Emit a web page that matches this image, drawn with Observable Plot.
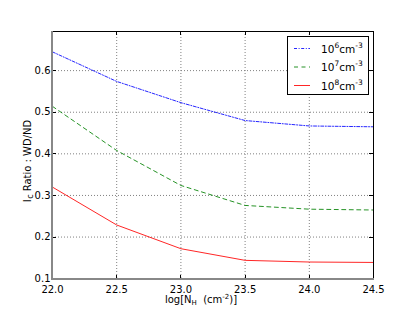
<!DOCTYPE html>
<html><head><meta charset="utf-8">
<script src="https://cdn.jsdelivr.net/npm/d3@7"></script>
<script src="https://cdn.jsdelivr.net/npm/@observablehq/plot@0.6"></script>
<style>
html,body{margin:0;padding:0;background:#fff;}
svg{font-family:"DejaVu Sans",sans-serif;}
</style></head>
<body><div id="chart"></div>
<script>
const logNH = [22.0, 22.5, 23.0, 23.5, 24.0, 24.5];
const ratio1e6 = [0.645, 0.574, 0.523, 0.480, 0.467, 0.465];
const ratio1e7 = [0.514, 0.408, 0.324, 0.276, 0.267, 0.265];
const ratio1e8 = [0.320, 0.229, 0.172, 0.144, 0.140, 0.139];
const xTicks = [22.0, 22.5, 23.0, 23.5, 24.0, 24.5];
const yTicks = [0.1, 0.2, 0.3, 0.4, 0.5, 0.6];
const seriesNames = ["6", "7", "8"];
const seriesColors = ["#0000ff", "#008000", "#ff0000"];
const seriesDash = ["3,1.6,1,1.6", "4,3.5", null];

const allSeries = [ratio1e6, ratio1e7, ratio1e8];
const rows = [];
allSeries.forEach((vals, i) => vals.forEach((v, j) => rows.push({x: logNH[j], y: v, s: seriesNames[i]})));

const W = 415, H = 312;
const plot = Plot.plot({
  width: W, height: H,
  marginLeft: 52, marginRight: 42, marginTop: 31, marginBottom: 33,
  x: {domain: [22, 24.5], ticks: xTicks, tickFormat: d => d.toFixed(1)},
  y: {domain: [0.098, 0.694], ticks: yTicks, tickFormat: d => d.toFixed(1)},
  style: {fontFamily: "DejaVu Sans", fontSize: "10px", color: "#000", background: "#fff"},
  marks: [
    Plot.ruleX(xTicks, {stroke: "#808080", strokeOpacity: 1, strokeDasharray: "1,2", strokeWidth: 1}),
    Plot.ruleY(yTicks, {stroke: "#808080", strokeOpacity: 1, strokeDasharray: "1,2", strokeWidth: 1}),
    Plot.axisX(xTicks, {tickSize: 0, tickPadding: 6, fontSize: 10, label: null, tickFormat: d => d.toFixed(1)}),
    Plot.axisY(yTicks, {tickSize: 0, tickPadding: 2, fontSize: 10, label: null, tickFormat: d => d.toFixed(1)}),
    ...seriesNames.map((s, i) => Plot.line(rows.filter(r => r.s === s), {
      x: "x", y: "y", stroke: seriesColors[i], strokeWidth: 1, strokeOpacity: 0.85,
      strokeDasharray: seriesDash[i] || undefined
    }))
  ]
});
document.getElementById("chart").appendChild(plot);

const svg = d3.select(plot);
const xs = plot.scale("x"), ys = plot.scale("y");
const x0 = xs.range[0], x1 = xs.range[1];
const yb = ys.range[0], yt = ys.range[1];

// inward ticks
const tk = svg.append("g").attr("stroke", "#000").attr("stroke-width", 1);
xTicks.forEach(t => {
  const px = Math.round(xs.apply(t)) + 0.5;
  tk.append("line").attr("x1", px).attr("x2", px).attr("y1", yb).attr("y2", yb - 4);
  tk.append("line").attr("x1", px).attr("x2", px).attr("y1", yt).attr("y2", yt + 4);
});
yTicks.forEach(t => {
  const py = Math.round(ys.apply(t)) + 0.5;
  tk.append("line").attr("x1", x0).attr("x2", x0 + 4).attr("y1", py).attr("y2", py);
  tk.append("line").attr("x1", x1).attr("x2", x1 - 4).attr("y1", py).attr("y2", py);
});
// frame
svg.append("line").attr("x1", x0).attr("x2", x1 + 0.5).attr("y1", yt + 0.5).attr("y2", yt + 0.5).attr("stroke", "#000");
svg.append("line").attr("x1", x1 + 0.5).attr("x2", x1 + 0.5).attr("y1", yt).attr("y2", yb).attr("stroke", "#000");
svg.append("line").attr("x1", x0).attr("x2", x1 + 1).attr("y1", yb).attr("y2", yb).attr("stroke", "#888").attr("stroke-width", 2);
svg.append("line").attr("x1", x0).attr("x2", x0).attr("y1", yt).attr("y2", yb + 1).attr("stroke", "#888").attr("stroke-width", 2);

// axis labels
const xl = svg.append("text").attr("x", 201).attr("y", 303).attr("text-anchor", "middle")
  .attr("font-size", 10).attr("fill", "#000");
xl.append("tspan").text("log[N");
xl.append("tspan").attr("font-size", 7).attr("dy", 2).text("H");
xl.append("tspan").attr("dy", -2).attr("xml:space", "preserve").text("  (cm");
xl.append("tspan").attr("font-size", 7).attr("dy", -4).text("-2");
xl.append("tspan").attr("dy", 4).text(")]");

const yl = svg.append("text").attr("transform", "translate(31,161) rotate(-90)")
  .attr("text-anchor", "middle").attr("font-size", 10).attr("fill", "#000");
yl.append("tspan").text("I");
yl.append("tspan").attr("font-size", 8).attr("dy", 2).attr("dx", 0.5).text("c");
yl.append("tspan").attr("dy", -2).attr("dx", 3).text("Ratio : WD/ND");

// legend
const lg = svg.append("g").attr("text-anchor", "start");
lg.append("rect").attr("x", 287.5).attr("y", 36.5).attr("width", 81).attr("height", 58)
  .attr("fill", "#fff").attr("stroke", "#000").attr("stroke-width", 1);
const rowY = [48.5, 67, 85.5];
seriesNames.forEach((s, i) => {
  const l = lg.append("line").attr("x1", 294).attr("x2", 310).attr("y1", rowY[i]).attr("y2", rowY[i])
    .attr("stroke", seriesColors[i]).attr("stroke-width", 1).attr("stroke-opacity", 0.85);
  if (seriesDash[i]) l.attr("stroke-dasharray", seriesDash[i]);
  const t = lg.append("text").attr("x", 321).attr("y", rowY[i] + 4).attr("font-size", 10.5)
    .attr("fill", "#000").attr("text-anchor", "start");
  t.append("tspan").text("10");
  t.append("tspan").attr("font-size", 7.5).attr("dy", -5).text(s);
  t.append("tspan").attr("dy", 5).text("cm");
  t.append("tspan").attr("font-size", 7.5).attr("dy", -5).text("-3");
});
</script>
</body></html>
